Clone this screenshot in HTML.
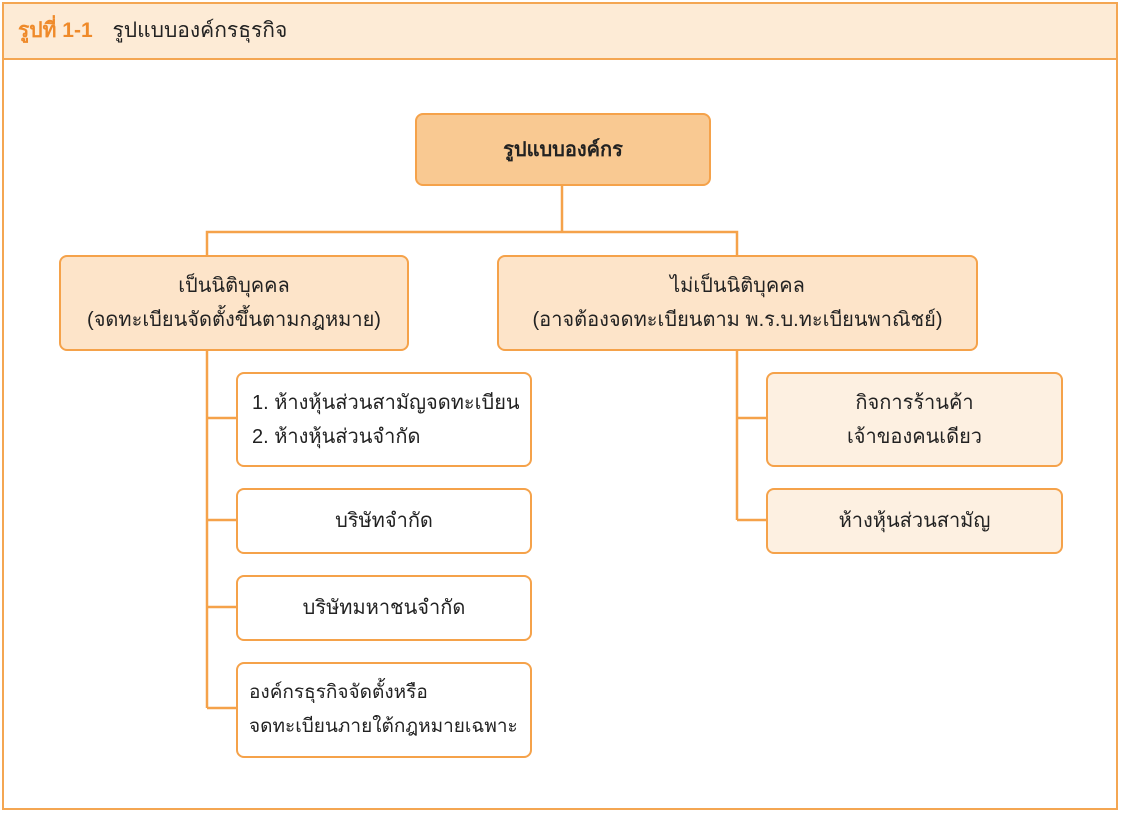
<!DOCTYPE html>
<html><head><meta charset="utf-8"><style>
body{margin:0;width:1123px;height:815px;background:#fff;position:relative;overflow:hidden;font-family:"Liberation Sans","DejaVu Sans",sans-serif;color:#222}
.frame{position:absolute;left:2px;top:2px;width:1116px;height:808px;border:2px solid #f4a652;box-sizing:border-box}
.hdr{position:absolute;left:2px;top:2px;width:1116px;height:58px;background:#fdebd6;border:2px solid #f4a652;box-sizing:border-box;font-size:21px;line-height:54px;padding-left:14px}
.hdr b{color:#ef8a2a;margin-right:14px}
.box{position:absolute;border:2.5px solid #f5a24a;border-radius:8px;box-sizing:border-box;display:flex;align-items:center;justify-content:center;text-align:center;font-size:20px;line-height:34px;white-space:nowrap}
.l1{background:#f9c992;font-weight:bold}
.l2{background:#fde4c9}
.lw{background:#fff}
.lp{background:#fdf0e1}
svg{position:absolute;left:0;top:0}
</style></head><body>
<div class="frame"></div>
<div class="hdr"><b>รูปที่ 1-1</b> รูปแบบองค์กรธุรกิจ</div>
<svg width="1123" height="815"><g stroke="#f5a24a" stroke-width="2.5" fill="none">
<path d="M562 185V232M207 256V232H737V256"/>
<path d="M207 350V708M207 418H236M207 520H236M207 607H236M207 708H236"/>
<path d="M737 350V520M737 418H766M737 520H766"/>
</g></svg>
<div class="box l1" style="left:415px;top:113px;width:296px;height:73px">รูปแบบองค์กร</div>
<div class="box l2" style="left:59px;top:255px;width:350px;height:96px">เป็นนิติบุคคล<br>(จดทะเบียนจัดตั้งขึ้นตามกฎหมาย)</div>
<div class="box l2" style="left:497px;top:255px;width:481px;height:96px">ไม่เป็นนิติบุคคล<br>(อาจต้องจดทะเบียนตาม พ.ร.บ.ทะเบียนพาณิชย์)</div>
<div class="box lw" style="left:236px;top:372px;width:296px;height:95px;justify-content:flex-start;text-align:left;padding-left:14px">1. ห้างหุ้นส่วนสามัญจดทะเบียน<br>2. ห้างหุ้นส่วนจำกัด</div>
<div class="box lw" style="left:236px;top:488px;width:296px;height:66px">บริษัทจำกัด</div>
<div class="box lw" style="left:236px;top:575px;width:296px;height:66px">บริษัทมหาชนจำกัด</div>
<div class="box lw" style="left:236px;top:662px;width:296px;height:96px;justify-content:flex-start;text-align:left;padding-left:11px;font-size:19px">องค์กรธุรกิจจัดตั้งหรือ<br>จดทะเบียนภายใต้กฎหมายเฉพาะ</div>
<div class="box lp" style="left:766px;top:372px;width:297px;height:95px">กิจการร้านค้า<br>เจ้าของคนเดียว</div>
<div class="box lp" style="left:766px;top:488px;width:297px;height:66px">ห้างหุ้นส่วนสามัญ</div>
</body></html>
